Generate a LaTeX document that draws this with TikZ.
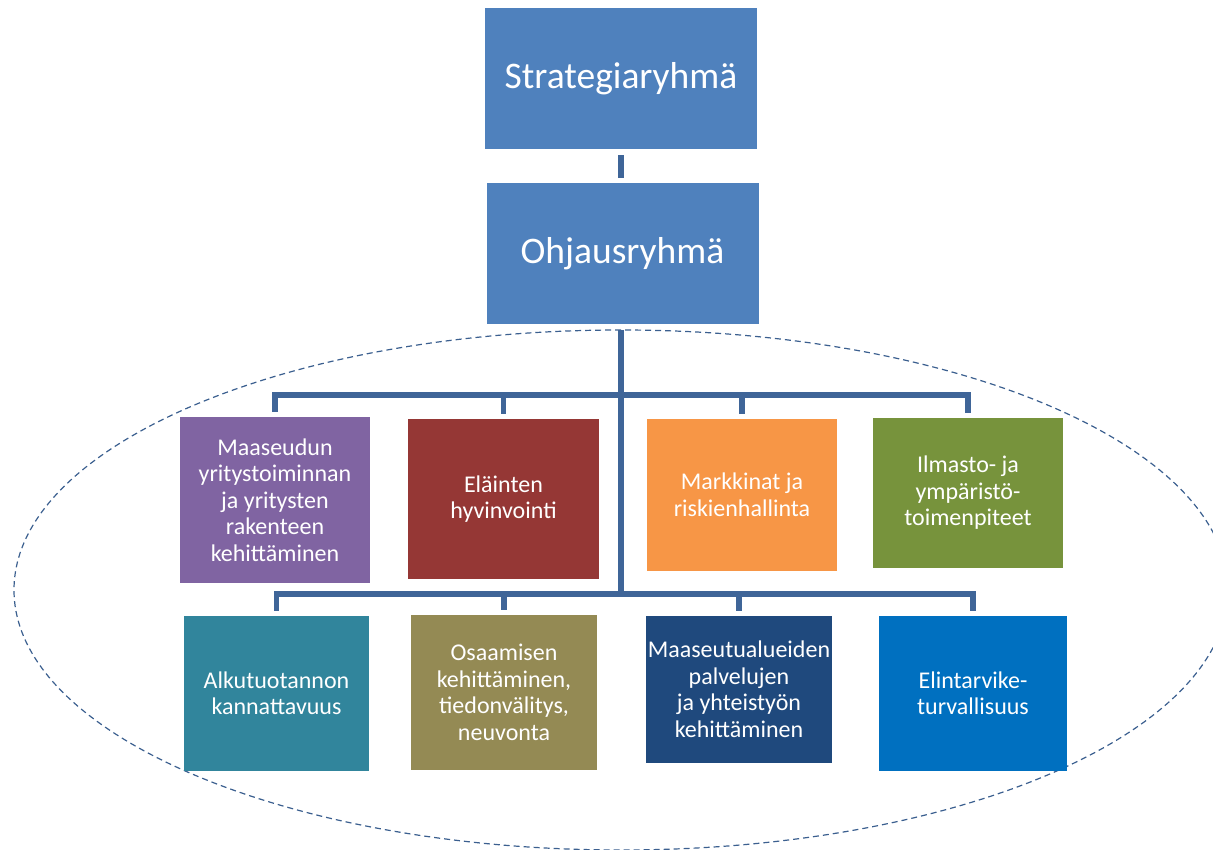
\documentclass[tikz,border=0pt]{standalone}
\usepackage{fontspec}
\setmainfont{Carlito}
\definecolor{topblue}{HTML}{4F81BD}
\definecolor{connblue}{HTML}{3F6598}
\definecolor{ovalblue}{HTML}{3B5F8F}
\definecolor{maapurple}{HTML}{8064A2}
\definecolor{elared}{HTML}{953735}
\definecolor{marorange}{HTML}{F79646}
\definecolor{ilmgreen}{HTML}{77933C}
\definecolor{alkteal}{HTML}{31859C}
\definecolor{osaolive}{HTML}{948A54}
\definecolor{palnavy}{HTML}{1F497D}
\definecolor{eliblue}{HTML}{0070C0}
\begin{document}
\begin{tikzpicture}[x=1pt,y=-1pt,
  box/.style={fill=#1, text=white, inner sep=0pt, align=center,
    font=\fontsize{24}{26.5}\selectfont},
  topbox/.style={box=topblue, minimum width=272pt, minimum height=141pt,
    font=\fontsize{37.5}{45}\selectfont},
  conn/.style={draw=connblue, line width=5.5pt},
  oval/.style={draw=ovalblue, line width=1.2pt, dash pattern=on 6pt off 4pt}]
  \useasboundingbox (0,0) rectangle (1213,850);

  \draw[oval] (621,590) ellipse [x radius=607, y radius=260];

  \node[topbox] (strat) at (621,78.5) {Strategiaryhmä};
  \node[topbox] (ohj) at (622.5,253.5) {Ohjausryhmä};

  \node[box=maapurple, minimum width=190pt, minimum height=166pt] (maa) at (275,500)
    {Maaseudun\\yritystoiminnan\\ja yritysten\\rakenteen\\kehittäminen};
  \node[box=elared, minimum width=191pt, minimum height=160pt] (ela) at (503.5,499)
    {Eläinten\\hyvinvointi};
  \node[box=marorange, minimum width=190pt, minimum height=152pt] (mar) at (742,495)
    {Markkinat ja\\riskienhallinta};
  \node[box=ilmgreen, minimum width=190pt, minimum height=150pt] (ilm) at (968,493)
    {Ilmasto- ja\\ympäristö-\\toimenpiteet};

  \node[box=alkteal, minimum width=185pt, minimum height=155pt] (alk) at (276.5,693.5)
    {Alkutuotannon\\kannattavuus};
  \node[box=osaolive, minimum width=186pt, minimum height=155pt] (osa) at (504,692.5)
    {Osaamisen\\kehittäminen,\\tiedonvälitys,\\neuvonta};
  \node[box=palnavy, minimum width=186pt, minimum height=147pt] (pal) at (739,689.5)
    {Maaseutualueiden\\palvelujen\\ja yhteistyön\\kehittäminen};
  \node[box=eliblue, minimum width=188pt, minimum height=155pt] (eli) at (973,693.5)
    {Elintarvike-\\turvallisuus};

  \coordinate (bus1) at (621,395);
  \coordinate (bus2) at (621,594);

  \draw[conn] ([yshift=-6pt]strat.south) -- ([yshift=5pt]ohj.north -| strat.south);
  \draw[conn] ([yshift=-6pt]ohj.south -| bus2) -- (bus2);
  \draw[conn] ([yshift=5pt]maa.north) |- (bus1) -| ([yshift=5pt]ilm.north);
  \draw[conn] ([yshift=5pt]ela.north) -- (ela.north |- bus1);
  \draw[conn] ([yshift=5pt]mar.north) -- (mar.north |- bus1);
  \draw[conn] ([yshift=5pt]alk.north) |- (bus2) -| ([yshift=5pt]eli.north);
  \draw[conn] ([yshift=5pt]osa.north) -- (osa.north |- bus2);
  \draw[conn] ([yshift=5pt]pal.north) -- (pal.north |- bus2);
\end{tikzpicture}
\end{document}
